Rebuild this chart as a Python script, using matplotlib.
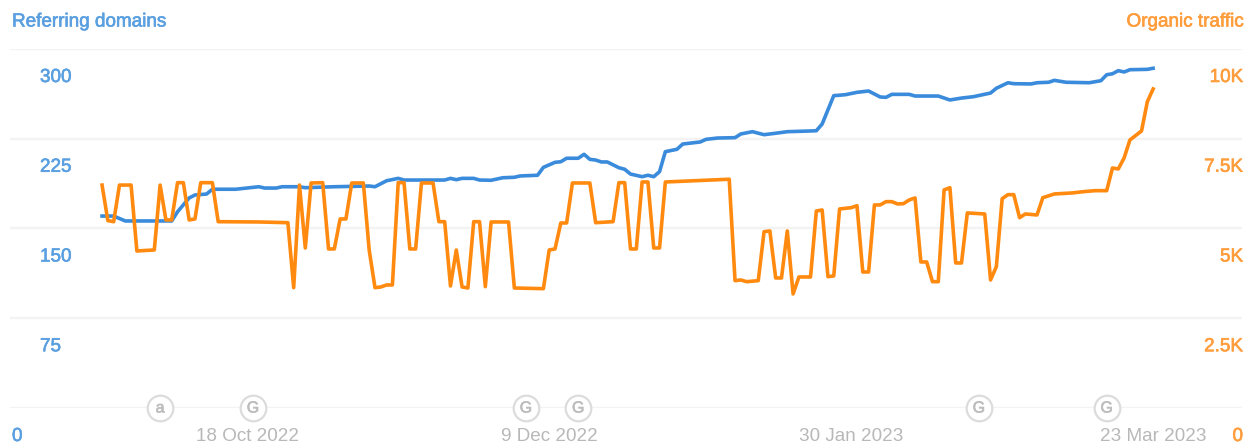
import matplotlib
matplotlib.use("Agg")
import matplotlib.pyplot as plt
import matplotlib.dates as mdates
import matplotlib.patheffects as pe
import pandas as pd

# days counted from 18 Oct 2022
domain_days = [-25, -23, -21, -13, -12, -10, -9, -7, -6, -2, 2, 3, 5, 6, 9, 10, 15, 21, 22, 24, 26, 27,
               34, 35, 36, 37, 39, 40, 42, 44, 46, 47, 50, 51, 53, 54, 55, 57, 58, 59, 60, 61, 62, 64, 65,
               66, 68, 69, 70, 71, 72, 74, 75, 78, 79, 81, 84, 85, 87, 89, 91, 93, 97, 98, 99, 101, 103,
               105, 107, 109, 110, 111, 114, 115, 119, 121, 123, 125, 128, 129, 131, 132, 135, 136, 138,
               139, 141, 145, 147, 148, 149, 150, 151, 152, 155, 156]
domains = [160.4, 160.4, 156.3, 156.3, 164, 175.5, 178, 178.8, 182.8, 182.8, 184.9, 183.8, 183.8, 184.9,
           184.9, 184.1, 184.9, 185.5, 184.9, 189.9, 191.9, 190.5, 190.5, 191.9, 190.8, 191.9, 191.9, 190.5,
           190.3, 192.4, 192.8, 193.9, 194.5, 201.1, 205.3, 205.8, 208.7, 208.7, 212, 207.8, 207.2, 205.6,
           205.6, 200.8, 199.5, 195.5, 193.3, 194.5, 193.3, 197.5, 214.2, 216.2, 220.6, 222.3, 224.5, 225.6,
           225.9, 229, 230.9, 228.4, 229.6, 230.9, 231.5, 231.7, 237.3, 261, 261.8, 263.8, 264.9, 259.9,
           259.6, 262.1, 262.1, 260.7, 260.7, 257.4, 259, 260.1, 263.2, 267.2, 271.8, 271, 270.8, 271.8,
           272.2, 273.8, 272.2, 271.8, 273.5, 278.5, 279.3, 281.9, 280.8, 282.7, 283, 283.9]

traffic_days = [-25, -24, -23, -22, -20, -19, -16, -15, -14, -13, -12, -11, -10, -9, -8, -6, -5, 2, 7, 8, 9,
                10, 11, 13, 14, 15, 16, 17, 18, 20, 21, 22, 23, 24, 25, 26, 27, 28, 29, 30, 32, 33, 34, 35,
                36, 37, 38, 39, 40, 41, 42, 45, 46, 51, 52, 53, 54, 55, 56, 59, 60, 63, 64, 65, 66, 67, 68,
                69, 70, 71, 72, 83, 84, 85, 86, 88, 89, 90, 91, 92, 93, 94, 95, 97, 98, 99, 100, 101, 102,
                104, 105, 106, 107, 108, 109, 110, 111, 112, 113, 114, 115, 116, 117, 118, 119, 120, 121,
                122, 123, 124, 127, 128, 129, 130, 131, 132, 133, 134, 136, 137, 139, 142, 144, 146, 148,
                149, 150, 151, 152, 154, 155, 156]
traffic = [6210, 5220, 5190, 6210, 6210, 4374, 4402, 6210, 5238, 5238, 6277, 6277, 5238, 5265, 6277, 6277,
           5190, 5182, 5162, 3352, 6210, 4458, 6268, 6277, 4430, 4430, 5265, 5265, 6268, 6268, 4402, 3352,
           3371, 3427, 3427, 6277, 6277, 4430, 4430, 6268, 6268, 5190, 5190, 3399, 4402, 3371, 3343, 5190,
           5190, 3380, 5182, 5182, 3343, 3324, 4402, 4430, 5154, 5154, 6268, 6268, 5162, 5190, 6277, 6277,
           4430, 4430, 6296, 6296, 4458, 4458, 6296, 6372, 3547, 3566, 3519, 3547, 4912, 4931, 3622, 3622,
           4931, 3176, 3650, 3650, 5488, 5516, 3658, 3678, 5544, 5580, 5636, 3789, 3789, 5656, 5656, 5748,
           5748, 5683, 5692, 5795, 5851, 4068, 4068, 3519, 3519, 6074, 6138, 4040, 4040, 5433, 5405, 3566,
           3937, 5831, 5943, 5943, 5302, 5405, 5377, 5859, 5962, 5990, 6026, 6054, 6054, 6686, 6659, 6965,
           7466, 7717, 8533, 8887]

domain_ticks = [0, 75, 150, 225, 300]
traffic_ticks = [0, 2500, 5000, 7500, 10000]
traffic_labels = ["0", "2.5K", "5K", "7.5K", "10K"]
date_ticks = ["2022-10-18", "2022-12-09", "2023-01-30", "2023-03-23"]
date_labels = ["18 Oct 2022", "9 Dec 2022", "30 Jan 2023", "23 Mar 2023"]
event_days = [-15, 1, 48, 57, 126, 148]
event_letters = ["a", "G", "G", "G", "G", "G"]

BLUE = "#3a8bdb"
ORANGE = "#ff8a0f"
BLUE_TEXT = "#5a9fe0"
ORANGE_TEXT = "#ff9d3c"
GREY = "#b8b8b8"

plt.rcParams["font.family"] = ["Liberation Sans", "DejaVu Sans"]
plt.rcParams["font.size"] = 13.6

base = pd.Timestamp("2022-10-18")


def to_dates(days):
    return base + pd.to_timedelta(days, unit="D")


def heavier(color):
    # reference text is a bit thicker than the regular weight
    return [pe.withStroke(linewidth=0.45, foreground=color)]


fig = plt.figure(figsize=(12.52, 4.44), dpi=100)
ax = fig.add_axes([10 / 1252, 36 / 444, 1232 / 1252, 359 / 444])
ax2 = ax.twinx()

ax.set_ylim(0, 300)
ax2.set_ylim(0, 10000)
ax.set_xlim(base + pd.Timedelta(days=-40.85), base + pd.Timedelta(days=171.3))

ax.set_yticks(domain_ticks)
ax2.set_yticks(traffic_ticks)
ax.set_xticks(pd.to_datetime(date_ticks))
ax.tick_params(length=0, labelleft=False, labelbottom=False)
ax2.tick_params(length=0, labelright=False)
ax.grid(axis="y", color="#f3f3f3", linewidth=1.7)
ax.grid(axis="x", visible=False)
ax.set_axisbelow(True)
for a in (ax, ax2):
    for s in a.spines.values():
        s.set_visible(False)

ax.plot(to_dates(domain_days), domains, color=BLUE, linewidth=2.6, solid_joinstyle="round")
ax2.plot(to_dates(traffic_days), traffic, color=ORANGE, linewidth=2.6, solid_joinstyle="round")

# value labels sit under their gridlines
for v in domain_ticks:
    px = 2 if v == 0 else 30
    ax.annotate(str(v), xy=(0, v), xycoords=ax.get_yaxis_transform(), xytext=(px, -28.5),
                textcoords="offset pixels", color=BLUE_TEXT, ha="left", va="center",
                path_effects=heavier(BLUE_TEXT))
for v, lab in zip(traffic_ticks, traffic_labels):
    ax2.annotate(lab, xy=(1, v), xycoords=ax2.get_yaxis_transform(), xytext=(1, -28.5),
                 textcoords="offset pixels", color=ORANGE_TEXT, ha="right", va="center",
                 path_effects=heavier(ORANGE_TEXT))
for d, lab in zip(date_ticks, date_labels):
    ax.annotate(lab, xy=(mdates.date2num(pd.Timestamp(d)), 0), xycoords=ax.get_xaxis_transform(),
                xytext=(0, -28), textcoords="offset pixels", color=GREY, ha="center", va="center")

# event markers on the baseline
ax2.scatter(to_dates(event_days), [0] * len(event_days), s=340, facecolor="white", edgecolor="#dcdcdc",
            linewidth=1.6, clip_on=False, zorder=5)
for d, letter in zip(event_days, event_letters):
    ax2.text(mdates.date2num(to_dates(d)), 0, letter, color="#bdbdbd", ha="center", va="center",
             fontsize=11.5, zorder=6, path_effects=heavier("#bdbdbd"))

fig.text(12 / 1252, 1 - 22 / 444, "Referring domains", color=BLUE_TEXT, ha="left", va="center",
         path_effects=heavier(BLUE_TEXT))
fig.text(1243 / 1252, 1 - 22 / 444, "Organic traffic", color=ORANGE_TEXT, ha="right", va="center",
         path_effects=heavier(ORANGE_TEXT))

fig.savefig("out.png", dpi=100)
